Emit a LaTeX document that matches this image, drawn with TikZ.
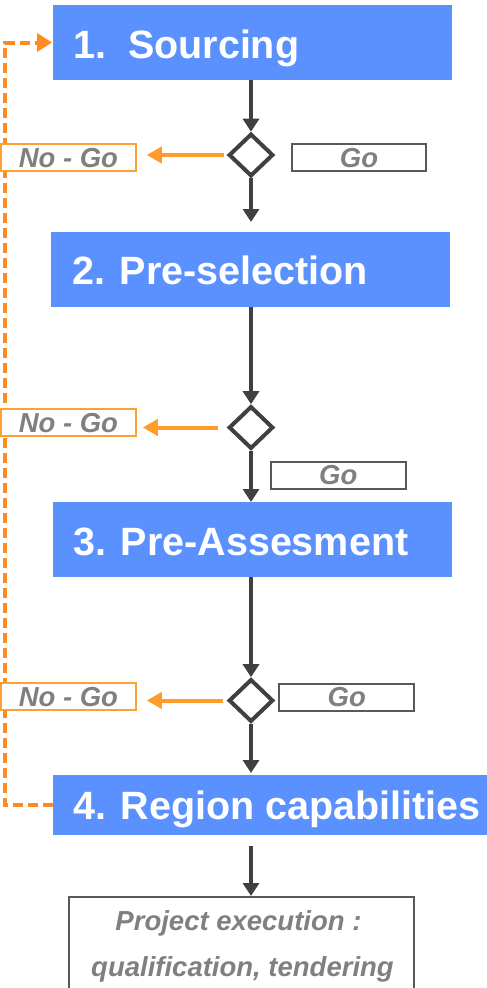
\documentclass[tikz,border=0pt]{standalone}
\usepackage{fontspec}
\setmainfont{Liberation Sans}
\usetikzlibrary{shapes.geometric,arrows.meta,backgrounds}

\definecolor{stageblue}{HTML}{5A91FF}
\definecolor{flowgray}{HTML}{404040}
\definecolor{tagtextgray}{HTML}{808080}
\definecolor{goframe}{HTML}{595959}
\definecolor{nogoframe}{HTML}{FFA033}
\definecolor{rejectorange}{HTML}{FF9C2A}
\definecolor{returnorange}{HTML}{FF8A1F}

\begin{document}
\begin{tikzpicture}[x=1pt,y=-1pt,
  stage/.style={fill=stageblue, draw=none, minimum height=75pt, inner sep=0pt, outer sep=0pt},
  stagetext/.style={anchor=base west, inner sep=0pt, text=white,
    font=\fontsize{39.5}{40}\selectfont\bfseries},
  decision/.style={diamond, draw=flowgray, line width=4pt, fill=white,
    minimum width=44.5pt, minimum height=42.6pt, inner sep=0pt},
  tagtext/.style={text=tagtextgray, font=\fontsize{27.5}{27.5}\selectfont\bfseries\itshape},
  nogo/.style={tagtext, draw=nogoframe, line width=2pt, fill=white,
    minimum width=134.7pt, minimum height=27pt, inner sep=0pt},
  gobox/.style={tagtext, draw=goframe, line width=2pt, fill=white,
    minimum width=134.7pt, minimum height=27pt, inner sep=0pt},
  flow/.style={draw=flowgray, line width=4pt, -{Triangle[width=16pt,length=13pt]}},
  reject/.style={draw=rejectorange, line width=4pt, -{Triangle[width=16pt,length=15pt]}},
  retreat/.style={draw=returnorange, line width=4pt, dash pattern=on 10pt off 5pt,
    -{Triangle[width=18pt,length=15pt]}}
]
\clip (0,0) rectangle (487,988);

% process stages
\node[stage, minimum width=399pt] (box1) at (252.5,42.5) {};
\node[stage, minimum width=399pt] (box2) at (250.5,269.5) {};
\node[stage, minimum width=399pt] (box3) at (252.5,539.5) {};
\node[stage, minimum width=434pt, minimum height=60pt] (box4) at (270,805) {};

\node[stagetext] (t1) at (73,58) {1.~~Sourcing};
\node[stagetext] (t2) at (72,284) {2. Pre-selection};
\node[stagetext] (t3) at (73,555) {3. Pre-Assesment};
\node[stagetext] (t4) at (73,819) {4. Region capabilities};

% go / no-go decisions
\node[decision] (d1) at (251,155) {};
\node[decision] (d2) at (251,427.5) {};
\node[decision] (d3) at (251,700.5) {};

\node[nogo] (n1) at (68.4,157.9) {No - Go};
\node[nogo] (n2) at (68.4,422.8) {No - Go};
\node[nogo] (n3) at (68.4,696.8) {No - Go};

\node[gobox] (g1) at (359,157.8) {Go};
\node[gobox] (g2) at (338.3,475) {Go};
\node[gobox] (g3) at (346.7,697.2) {Go};

% final outcome
\node[draw=goframe, line width=2pt, fill=white, minimum width=344.7pt,
  minimum height=120pt, anchor=north, inner sep=0pt] (exec) at (241.7,896) {};
\node[tagtext, anchor=base, inner sep=0pt] (exec1) at (238.5,930) {Project execution :};
\node[tagtext, anchor=base, inner sep=0pt] (exec2) at (242.5,976.7) {qualification, tendering};

% main flow
\draw[flow] (d1.north |- box1.south) -- (d1.north);
\draw[flow, shorten >=10pt] (d1.south) -- (d1.south |- box2.north);
\draw[flow] (d2.north |- box2.south) -- (d2.north);
\draw[flow] (d2.south) -- (d2.south |- box3.north);
\draw[flow] (d3.north |- box3.south) -- (d3.north);
\draw[flow, shorten >=2pt] (d3.south) -- (d3.south |- box4.north);
\draw[flow, shorten <=11pt] (d3.south |- box4.south) -- (d3.south |- exec.north);

% rejected branches
\draw[reject, shorten <=3pt, shorten >=10pt] (d1.west) -- (d1.west -| n1.east);
\draw[reject, shorten <=8.5pt, shorten >=6pt] (d2.west) -- (d2.west -| n2.east);
\draw[reject, shorten <=4pt, shorten >=10pt] (d3.west) -- (d3.west -| n3.east);

% return loop back to sourcing
\coordinate (loopbot) at (5,805);
\coordinate (looptop) at (5,42.5);
\begin{scope}[on background layer]
  \draw[retreat, shorten >=1pt] (box4.west) -- (loopbot) -- (looptop) -- (box1.west);
\end{scope}
\end{tikzpicture}
\end{document}
